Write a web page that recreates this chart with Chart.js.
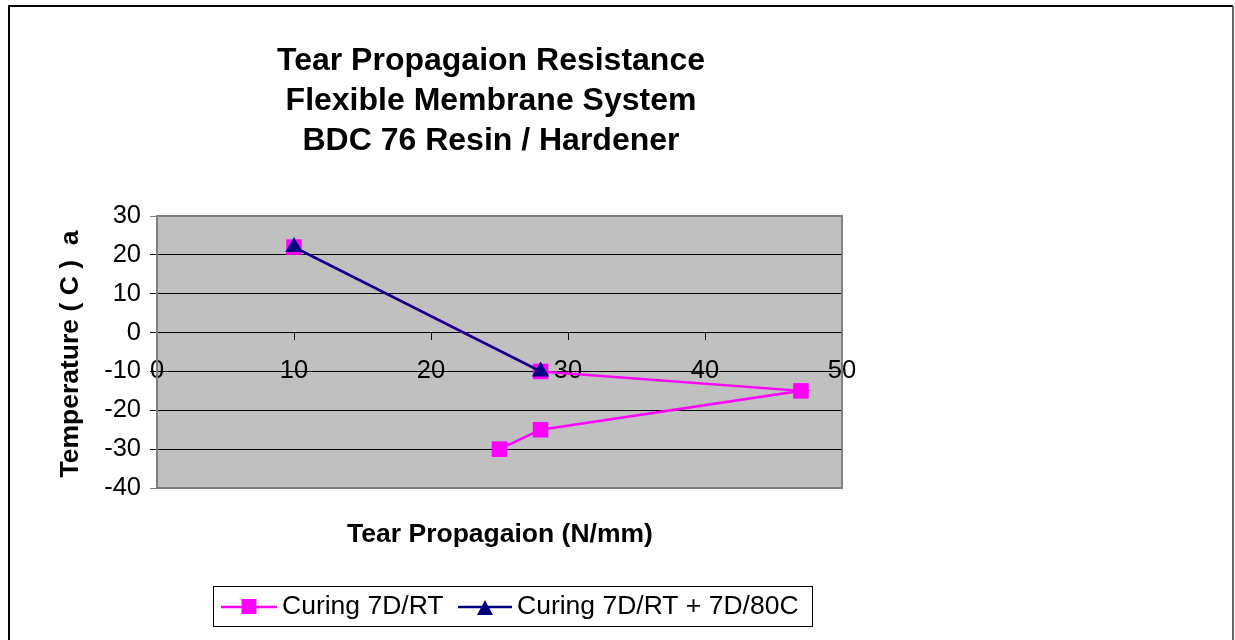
<!DOCTYPE html>
<html>
<head>
<meta charset="utf-8">
<script src="https://cdn.jsdelivr.net/npm/chart.js@4.4.1/dist/chart.umd.min.js"></script>
<style>
html,body{margin:0;padding:0;background:#fff;}
canvas{display:block;}
</style>
</head>
<body>
<canvas id="c" width="1235" height="640"></canvas>
<script>
// ---- data ----
const titleLines = ["Tear Propagaion Resistance", "Flexible Membrane System", "BDC 76 Resin / Hardener"];
const xTitle = "Tear Propagaion (N/mm)";
const yTitle = "Temperature ( C )  a";
const seriesNames = ["Curing 7D/RT", "Curing 7D/RT + 7D/80C"];
const rtX = [10, 28, 47, 28, 25];
const rtY = [22, -10, -15, -25, -30];
const hotX = [10, 28];
const hotY = [22, -10];
const xTicks = [0, 10, 20, 30, 40, 50];
const yTicks = [30, 20, 10, 0, -10, -20, -30, -40];

const MAGENTA = '#FF00FF', NAVY = '#000080';
const FONT = "'Liberation Sans', Arial, sans-serif";

const toPts = (xs, ys) => xs.map((x, i) => ({x: x, y: ys[i]}));

const decor = {
  id: 'decor',
  beforeDraw(chart) {
    const ctx = chart.ctx, a = chart.chartArea;
    ctx.save();
    ctx.fillStyle = '#fff';
    ctx.fillRect(0, 0, chart.width, chart.height);
    // outer frame
    ctx.strokeStyle = '#000';
    ctx.lineWidth = 2;
    ctx.beginPath();
    ctx.moveTo(9, 660); ctx.lineTo(9, 6); ctx.lineTo(1233, 6);
    ctx.stroke();
    ctx.strokeStyle = '#666';
    ctx.beginPath();
    ctx.moveTo(1233, 6); ctx.lineTo(1233, 660);
    ctx.stroke();
    // plot background
    ctx.fillStyle = '#C0C0C0';
    ctx.fillRect(a.left, a.top, a.right - a.left, a.bottom - a.top);
    ctx.restore();
  },
  beforeDatasetsDraw(chart) {
    const ctx = chart.ctx, a = chart.chartArea;
    ctx.save();
    ctx.strokeStyle = '#808080';
    ctx.lineWidth = 2;
    ctx.strokeRect(a.left, a.top, a.right - a.left, a.bottom - a.top);
    ctx.restore();
  },
  afterDraw(chart) {
    const ctx = chart.ctx;
    ctx.save();
    ctx.fillStyle = '#000';
    ctx.textAlign = 'center';
    ctx.textBaseline = 'middle';
    ctx.font = 'bold 32px ' + FONT;
    titleLines.forEach((t, i) => ctx.fillText(t, 491, 61 + i * 40));
    ctx.font = 'bold 26.5px ' + FONT;
    ctx.fillText(xTitle, 500, 535);
    ctx.save();
    ctx.translate(78, 354);
    ctx.rotate(-Math.PI / 2);
    ctx.textBaseline = 'alphabetic';
    ctx.fillText(yTitle, 0, 0);
    ctx.restore();
    // legend
    const lx = 213, ly = 586, lw = 599, lh = 40;
    ctx.fillStyle = '#fff';
    ctx.fillRect(lx, ly, lw, lh);
    ctx.strokeStyle = '#000';
    ctx.lineWidth = 1;
    ctx.strokeRect(lx + 0.5, ly + 0.5, lw, lh);
    const cy = 607;
    const items = [
      {x0: 221, x1: 277, mx: 249, color: MAGENTA, shape: 'rect', tx: 282},
      {x0: 458, x1: 512, mx: 485, color: NAVY, shape: 'triangle', tx: 517}
    ];
    ctx.font = '26.5px ' + FONT;
    ctx.textAlign = 'left';
    items.forEach((it, i) => {
      ctx.strokeStyle = it.color;
      ctx.lineWidth = 2.5;
      ctx.beginPath(); ctx.moveTo(it.x0, cy); ctx.lineTo(it.x1, cy); ctx.stroke();
      ctx.fillStyle = it.color;
      if (it.shape === 'rect') {
        ctx.fillRect(it.mx - 7.5, cy - 8, 15, 15);
      } else {
        ctx.beginPath();
        ctx.moveTo(it.mx, cy - 7); ctx.lineTo(it.mx + 8, cy + 8); ctx.lineTo(it.mx - 8, cy + 8);
        ctx.closePath(); ctx.fill();
      }
      ctx.fillStyle = '#000';
      ctx.fillText(seriesNames[i], it.tx, cy);
    });
    ctx.restore();
  }
};

new Chart(document.getElementById('c'), {
  type: 'scatter',
  data: {
    datasets: [
      {
        label: seriesNames[0],
        data: toPts(rtX, rtY),
        showLine: true,
        borderColor: MAGENTA,
        backgroundColor: MAGENTA,
        borderWidth: 2.5,
        pointStyle: 'rect',
        pointRadius: 11,
        pointBorderWidth: 0,
        order: 2
      },
      {
        label: seriesNames[1],
        data: toPts(hotX, hotY),
        showLine: true,
        borderColor: NAVY,
        backgroundColor: NAVY,
        borderWidth: 2.5,
        pointStyle: 'triangle',
        pointRadius: 10,
        pointBorderWidth: 0,
        order: 1
      }
    ]
  },
  options: {
    responsive: false,
    animation: false,
    events: [],
    layout: {padding: {left: 0, top: 216, right: 393, bottom: 152}},
    plugins: {legend: {display: false}, title: {display: false}, tooltip: {enabled: false}},
    scales: {
      x: {
        type: 'linear',
        position: {y: 0},
        min: xTicks[0], max: xTicks[xTicks.length - 1],
        afterBuildTicks: s => { s.ticks = xTicks.map(v => ({value: v})); },
        grid: {drawOnChartArea: false, drawTicks: true, tickLength: 7, color: '#000', lineWidth: 1},
        border: {display: true, color: '#000', width: 1},
        ticks: {color: '#000', font: {family: FONT, size: 25.5}, padding: 16, maxRotation: 0, autoSkip: false}
      },
      y: {
        type: 'linear',
        position: 'left',
        min: yTicks[yTicks.length - 1], max: yTicks[0],
        afterBuildTicks: s => { s.ticks = yTicks.slice().reverse().map(v => ({value: v})); },
        afterFit: s => { s.width = 157; },
        grid: {
          drawOnChartArea: true, drawTicks: true, tickLength: 7, lineWidth: 1,
          color: c => (c.tick && (c.tick.value === 30 || c.tick.value === -40)) ? '#808080' : '#000'
        },
        border: {display: true, color: '#555', width: 1},
        ticks: {color: '#000', font: {family: FONT, size: 25.5}, padding: 9, autoSkip: false}
      }
    }
  },
  plugins: [decor]
});
</script>
</body>
</html>
